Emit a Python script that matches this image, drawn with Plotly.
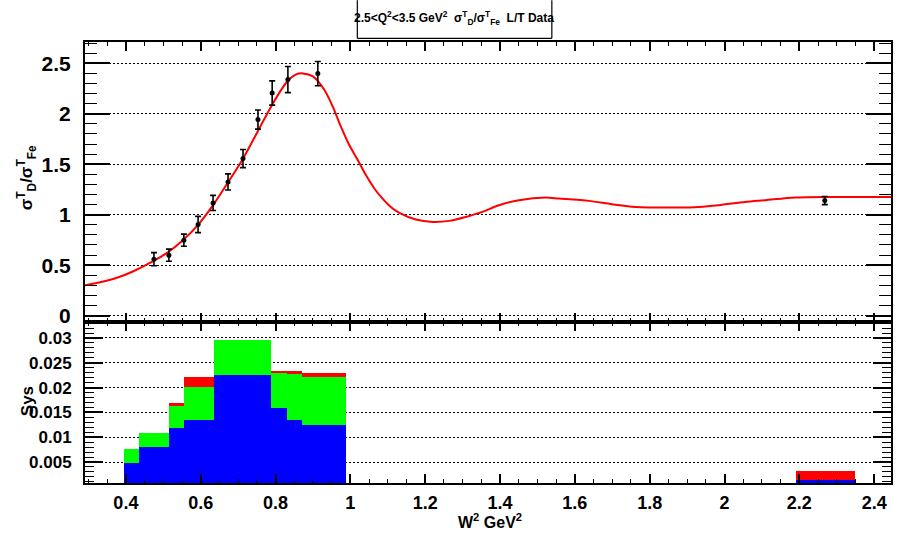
import plotly.graph_objects as go

# ---- data ----
pts_x = [0.475, 0.515, 0.555, 0.593, 0.633, 0.673, 0.713, 0.753, 0.791, 0.833, 0.913, 2.268]
pts_y = [0.559, 0.599, 0.748, 0.903, 1.117, 1.325, 1.556, 1.943, 2.206, 2.339, 2.398, 1.14]
pts_err = [0.065, 0.06, 0.06, 0.08, 0.075, 0.08, 0.09, 0.095, 0.12, 0.13, 0.12, 0.04]

curve_x = [0.29, 0.331, 0.38, 0.42, 0.473, 0.513, 0.553, 0.593, 0.633, 0.673, 0.713, 0.753,
           0.791, 0.829, 0.855, 0.873, 0.9, 0.931, 0.953, 0.975, 0.997, 1.02, 1.042, 1.064,
           1.086, 1.108, 1.131, 1.175, 1.22, 1.264, 1.308, 1.353, 1.397, 1.451, 1.522, 1.557,
           1.637, 1.699, 1.762, 1.877, 1.931, 1.984, 2.055, 2.109, 2.189, 2.277, 2.445]
curve_y = [0.30, 0.33, 0.38, 0.44, 0.54, 0.63, 0.75, 0.90, 1.095, 1.32, 1.555, 1.83,
           2.09, 2.31, 2.39, 2.40, 2.37, 2.233, 2.07, 1.87, 1.69, 1.54, 1.39, 1.26,
           1.16, 1.077, 1.018, 0.952, 0.929, 0.939, 0.978, 1.028, 1.094, 1.144, 1.17, 1.16,
           1.137, 1.104, 1.077, 1.071, 1.077, 1.094, 1.127, 1.144, 1.17, 1.176, 1.176]

bin_lo = [0.395, 0.436, 0.516, 0.556, 0.635, 0.787, 0.831, 0.871, 2.19]
bin_hi = [0.436, 0.516, 0.556, 0.635, 0.787, 0.831, 0.871, 0.987, 2.35]
sys_red = [0.0076, 0.0109, 0.0168, 0.0221, 0.0296, 0.0234, 0.0234, 0.0230, 0.00325]
sys_green = [0.0076, 0.0109, 0.0163, 0.0201, 0.0296, 0.0229, 0.0228, 0.0221, 0.00137]
sys_blue = [0.0047, 0.0081, 0.0119, 0.0135, 0.0225, 0.0158, 0.0135, 0.0125, 0.00137]

x_tickvals = [0.4, 0.6, 0.8, 1.0, 1.2, 1.4, 1.6, 1.8, 2.0, 2.2, 2.4]

# ---- geometry ----
W, H = 905, 538
L, R, T, B = 85, 893, 41.7, 483
split = 322
plot_h = B - T
dom_split = (B - split) / plot_h

FONT = "Liberation Sans, Arial, sans-serif"

def px(xp):
    return (xp - L) / (R - L)

def py(yp):
    return (B - yp) / plot_h

centers = [(a + b) / 2 for a, b in zip(bin_lo, bin_hi)]
widths = [b - a for a, b in zip(bin_lo, bin_hi)]

fig = go.Figure()

for vals, col in [(sys_red, "#ff0000"), (sys_green, "#00ff00"), (sys_blue, "#0000ff")]:
    fig.add_trace(go.Bar(x=centers, y=vals, width=widths, base=0,
                         marker=dict(color=col, line=dict(width=0)),
                         xaxis="x2", yaxis="y2", showlegend=False))

fig.add_trace(go.Scatter(x=curve_x, y=curve_y, mode="lines",
                         line=dict(color="#ff0000", width=2, shape="spline", smoothing=0.8),
                         xaxis="x", yaxis="y", showlegend=False))
fig.add_trace(go.Scatter(x=pts_x, y=pts_y, mode="markers",
                         marker=dict(color="black", size=5),
                         error_y=dict(type="data", array=pts_err, color="black",
                                      thickness=1.6, width=3),
                         xaxis="x", yaxis="y", showlegend=False))

xr = [0.2907, 2.445]
common_x = dict(range=xr, showline=True, linecolor="black", linewidth=2, mirror="allticks",
                ticks="inside", tickvals=x_tickvals, ticklen=9, tickwidth=1.5, tickcolor="black",
                showgrid=False, zeroline=False,
                minor=dict(dtick=0.05, tick0=0, ticks="inside", ticklen=4, tickcolor="black", tickwidth=1))

fig.update_layout(
    width=W, height=H,
    margin=dict(l=L, r=W - R, t=T, b=H - B, pad=0),
    paper_bgcolor="white", plot_bgcolor="white",
    barmode="overlay", bargap=0,
    font=dict(family=FONT, color="black"),
    xaxis=dict(domain=[0, 1], anchor="y", showticklabels=False, **common_x),
    xaxis2=dict(domain=[0, 1], anchor="y2", showticklabels=True, matches="x",
                tickfont=dict(family=FONT, size=18, color="black", weight="bold"),
                ticklabelstandoff=2,
                **common_x),
    yaxis=dict(domain=[dom_split, 1], anchor="x", range=[-0.064, 2.711],
               showline=True, linecolor="black", linewidth=2, mirror="allticks",
               ticks="inside", tick0=0, dtick=0.5, ticklen=25, tickwidth=1.5, tickcolor="black",
               tickfont=dict(family=FONT, size=21, color="black", weight="bold"),
               ticklabelstandoff=8,
               showgrid=True, gridcolor="black", gridwidth=1.3, griddash="1.5px,2.5px",
               zeroline=False,
               minor=dict(dtick=0.1, tick0=0, ticks="inside", ticklen=12, tickcolor="black", tickwidth=1)),
    yaxis2=dict(domain=[0, dom_split], anchor="x2", range=[0.00077, 0.0332],
                showline=True, linecolor="black", linewidth=2, mirror="allticks",
                ticks="inside", tick0=0, dtick=0.005, ticklen=18, tickwidth=1.5, tickcolor="black",
                tickfont=dict(family=FONT, size=17, color="black", weight="bold"),
                ticklabelstandoff=8,
                showgrid=True, gridcolor="black", gridwidth=1.3, griddash="1.5px,2.5px",
                zeroline=False,
                minor=dict(dtick=0.001, tick0=0, ticks="inside", ticklen=9, tickcolor="black", tickwidth=1)),
)

annots = [
    dict(text="<b>2.5&lt;Q<sup>2</sup>&lt;3.5 GeV<sup>2</sup>  σ<sup>T</sup><sub>D</sub>/σ<sup>T</sup><sub>Fe</sub>  L/T Data</b>",
         x=px(455), y=py(18), font=dict(size=12)),
    dict(text="<b>σ<sup>T</sup><sub>D</sub>/σ<sup>T</sup><sub>Fe</sub></b>", x=px(26), y=py(178),
         textangle=-90, font=dict(size=17)),
    dict(text="<b>Sys</b>", x=px(27), y=py(401), textangle=-90, font=dict(size=17)),
    dict(text="<b>W<sup>2</sup> GeV<sup>2</sup></b>", x=px(491), y=py(521), font=dict(size=16)),
]
for a in annots:
    fig.add_annotation(xref="paper", yref="paper", showarrow=False,
                       xanchor="center", yanchor="middle", **a)

for x0, y0, x1, y1 in [(358, 0, 358, 38), (553, 0, 553, 38), (358, 38, 553, 38)]:
    fig.add_shape(type="line", xref="paper", yref="paper",
                  x0=px(x0), y0=py(y0), x1=px(x1), y1=py(y1),
                  line=dict(color="black", width=1.2))

fig.write_html("out.html")
